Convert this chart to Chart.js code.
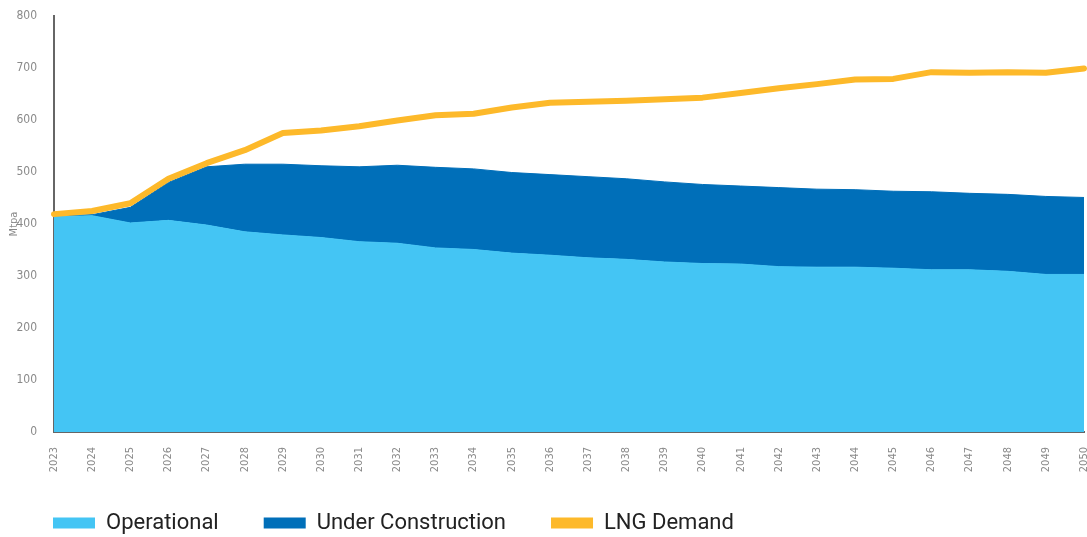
<!DOCTYPE html>
<html lang="en">
<head>
    <meta charset="UTF-8">
    <title>LNG Supply and Demand</title>
    <script src="https://cdn.jsdelivr.net/npm/chart.js"></script>
    <style>
        html, body {
            margin: 0;
            padding: 0;
            background: #ffffff;
        }
        .wrap {
            width: 1087px;
            height: 537px;
            position: relative;
        }
    </style>
</head>
<body>
    <div class="wrap">
        <canvas id="lngChart"></canvas>
    </div>

    <script>
        const years = ["2023", "2024", "2025", "2026", "2027", "2028", "2029", "2030", "2031", "2032",
                       "2033", "2034", "2035", "2036", "2037", "2038", "2039", "2040", "2041", "2042",
                       "2043", "2044", "2045", "2046", "2047", "2048", "2049", "2050"];

        // Mtpa
        const operational = [414, 416, 402, 407, 398, 385, 379, 374, 366, 363,
                             354, 351, 344, 340, 335, 332, 327, 324, 323, 318,
                             317, 317, 315, 312, 312, 309, 303, 303];
        const underConstruction = [2, 2, 30, 73, 112, 130, 136, 138, 144, 150,
                                   155, 155, 155, 155, 156, 155, 154, 152, 150, 152,
                                   150, 149, 148, 150, 147, 148, 150, 148];
        const lngDemand = [419, 425, 440, 487, 517, 542, 575, 580, 588, 599,
                           609, 612, 624, 633, 635, 637, 640, 643, 652, 661,
                           669, 678, 679, 692, 691, 692, 691, 699];

        const seriesNames = ["Operational", "Under Construction", "LNG Demand"];
        const seriesColors = ["#44c5f4", "#006fb9", "#fdb92a"];

        const narrowFont = "'Liberation Sans Narrow', 'DejaVu Sans Condensed', 'DejaVu Sans', sans-serif";

        // rotated year labels run past the x-axis box, so widen the clip area
        const labelRoom = {
            id: "labelRoom",
            afterLayout: function (chart) {
                chart.scales.x.bottom += 25;
            }
        };

        const ctx = document.getElementById("lngChart").getContext("2d");

        new Chart(ctx, {
            type: "line",
            data: {
                labels: years,
                datasets: [
                    {
                        label: seriesNames[0],
                        data: operational,
                        stack: "supply",
                        order: 1,
                        fill: "origin",
                        backgroundColor: seriesColors[0],
                        borderColor: seriesColors[0],
                        borderWidth: 1,
                        pointRadius: 0,
                        tension: 0
                    },
                    {
                        label: seriesNames[1],
                        data: underConstruction,
                        stack: "supply",
                        order: 1,
                        fill: "-1",
                        backgroundColor: seriesColors[1],
                        borderColor: seriesColors[1],
                        borderWidth: 1,
                        pointRadius: 0,
                        tension: 0
                    },
                    {
                        label: seriesNames[2],
                        data: lngDemand,
                        stack: "demand",
                        order: 0,
                        fill: false,
                        backgroundColor: seriesColors[2],
                        borderColor: seriesColors[2],
                        borderWidth: 6,
                        borderCapStyle: "round",
                        borderJoinStyle: "round",
                        pointRadius: 0,
                        tension: 0
                    }
                ]
            },
            plugins: [labelRoom],
            options: {
                responsive: true,
                maintainAspectRatio: false,
                animation: false,
                layout: {
                    padding: { top: 16, left: 8, right: 3, bottom: -7 }
                },
                plugins: {
                    tooltip: { enabled: false },
                    legend: {
                        position: "bottom",
                        align: "start",
                        labels: {
                            boxWidth: 42,
                            boxHeight: 11,
                            padding: 45,
                            color: "#222222",
                            font: { family: "Roboto, sans-serif", size: 22 },
                            generateLabels: function (chart) {
                                return chart.data.datasets.map(function (ds, i) {
                                    return {
                                        text: ds.label,
                                        fillStyle: seriesColors[i],
                                        strokeStyle: seriesColors[i],
                                        lineWidth: 0,
                                        hidden: false,
                                        datasetIndex: i,
                                        fontColor: "#222222"
                                    };
                                });
                            }
                        }
                    }
                },
                scales: {
                    x: {
                        offset: false,
                        grid: { display: false, drawTicks: false },
                        border: { display: true, color: "#666666", width: 2 },
                        ticks: {
                            autoSkip: false,
                            minRotation: 90,
                            maxRotation: 90,
                            padding: 15,
                            color: "#8a8a8a",
                            font: { family: narrowFont, size: 11, weight: "condensed" }
                        },
                        afterFit: function (scale) {
                            scale.height = 35;
                            scale.paddingLeft = 0;
                            scale.paddingRight = 0;
                        }
                    },
                    y: {
                        stacked: true,
                        min: 0,
                        max: 800,
                        grid: { display: false, drawTicks: false },
                        border: { display: true, color: "#666666", width: 2 },
                        ticks: {
                            stepSize: 100,
                            padding: 17,
                            color: "#8a8a8a",
                            font: { family: narrowFont, size: 12, weight: "condensed" }
                        },
                        title: {
                            display: true,
                            text: "Mtpa",
                            color: "#8a8a8a",
                            padding: 0,
                            font: { family: narrowFont, size: 11, weight: "condensed" }
                        },
                        afterFit: function (scale) {
                            scale.width = 46;
                            scale.paddingTop = 0;
                            scale.paddingBottom = 0;
                        }
                    }
                }
            }
        });
    </script>
</body>
</html>
